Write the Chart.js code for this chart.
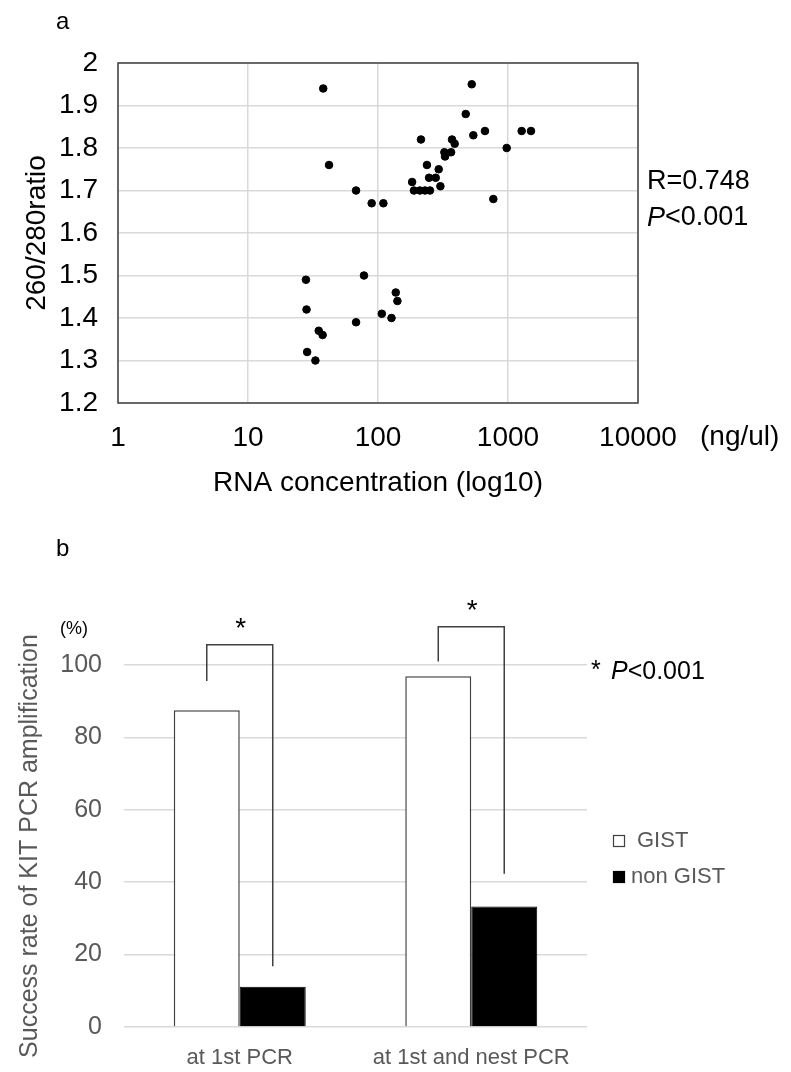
<!DOCTYPE html>
<html>
<head>
<meta charset="utf-8">
<script src="https://cdn.jsdelivr.net/npm/chart.js@4.4.1/dist/chart.umd.min.js"></script>
<style>
  body { margin: 0; background: #fff; }
  #wrap { position: relative; width: 791px; height: 1072px; }
  canvas { position: absolute; left: 0; }
  #scatterChart { top: 0; }
  #barChart { top: 520px; }
</style>
</head>
<body>
<div id="wrap">
  <canvas id="scatterChart" width="791" height="520"></canvas>
  <canvas id="barChart" width="791" height="552"></canvas>
</div>
<script>
// ---- data: panel a (RNA concentration vs 260/280 ratio) ----
const rnaConcentration = [37.9, 42, 67.8, 27.9, 28.2, 67.8, 35, 37.5, 28.5, 33,
  89.4, 110, 526, 473, 214, 541, 665, 1274, 1503, 977,
  371, 389, 324, 365, 328, 238, 293, 247, 278, 183,
  302, 189, 210, 230, 251, 771, 78, 137, 141, 107, 127];
const ratio260280 = [1.94, 1.76, 1.70, 1.49, 1.42, 1.39, 1.37, 1.36, 1.32, 1.30,
  1.67, 1.67, 1.95, 1.88, 1.82, 1.83, 1.84, 1.84, 1.84, 1.80,
  1.82, 1.81, 1.79, 1.79, 1.78, 1.76, 1.75, 1.73, 1.73, 1.72,
  1.71, 1.70, 1.70, 1.70, 1.70, 1.68, 1.50, 1.46, 1.44, 1.41, 1.40];
const xTickValues = [1, 10, 100, 1000, 10000];
const yTickValues = [1.2, 1.3, 1.4, 1.5, 1.6, 1.7, 1.8, 1.9, 2];

// ---- data: panel b (KIT PCR success rate) ----
const barCategories = ['at 1st PCR', 'at 1st and nest PCR'];
const gistRates = [87.5, 96.9];
const nonGistRates = [11.1, 33.3];
const barTickValues = [0, 20, 40, 60, 80, 100];
// significance brackets, in % units: top bar, left leg end, right leg end
const bracketTop = [105.6, 110.6];
const bracketLeftEnd = [95.6, 101];
const bracketRightEnd = [16.8, 42.3];

Chart.defaults.font.family = "'Liberation Sans', Arial, sans-serif";

const GRID = '#d9d9d9';
const DARK = '#404040';
const GREY = '#595959';

function fixTicks(values) {
  return axis => { axis.ticks = values.map(v => ({ value: v })); };
}

// frame around the plot area of panel a
const framePlugin = {
  id: 'frame',
  beforeDatasetsDraw(chart) {
    const { ctx, chartArea: a } = chart;
    ctx.save();
    ctx.strokeStyle = DARK;
    ctx.lineWidth = 1.5;
    ctx.strokeRect(a.left, a.top, a.right - a.left, a.bottom - a.top);
    ctx.restore();
  }
};

const scatterTextPlugin = {
  id: 'scatterText',
  afterDraw(chart) {
    const ctx = chart.ctx;
    ctx.save();
    ctx.fillStyle = '#000';
    ctx.textBaseline = 'middle';
    ctx.textAlign = 'left';
    ctx.font = "24px 'Liberation Sans', Arial, sans-serif";
    ctx.fillText('a', 56, 22);
    ctx.font = "28px 'Liberation Sans', Arial, sans-serif";
    ctx.fillText('(ng/ul)', 700, 437);
    ctx.font = "27px 'Liberation Sans', Arial, sans-serif";
    ctx.fillText('R=0.748', 647, 182);
    ctx.font = "italic 27px 'Liberation Sans', Arial, sans-serif";
    ctx.fillText('P', 647, 218);
    const pw = ctx.measureText('P').width;
    ctx.font = "27px 'Liberation Sans', Arial, sans-serif";
    ctx.fillText('<0.001', 647 + pw, 218);
    ctx.restore();
  }
};

new Chart(document.getElementById('scatterChart'), {
  type: 'scatter',
  data: {
    datasets: [{
      label: '260/280ratio',
      data: rnaConcentration.map((x, i) => ({ x: x, y: ratio260280[i] })),
      backgroundColor: '#000',
      borderColor: '#000',
      pointRadius: 3.8,
      borderWidth: 1
    }]
  },
  options: {
    responsive: false,
    animation: false,
    layout: { padding: { top: 63, right: 153, left: 0, bottom: 0 } },
    plugins: { legend: { display: false }, tooltip: { enabled: false } },
    scales: {
      x: {
        type: 'logarithmic',
        min: 1,
        max: 10000,
        afterBuildTicks: fixTicks(xTickValues),
        afterFit(s) { s.height = 117; },
        border: { display: false },
        grid: { color: GRID, lineWidth: 1.5, drawTicks: false },
        ticks: {
          color: '#000',
          font: { size: 28 },
          padding: 18,
          maxRotation: 0,
          autoSkip: false,
          callback: v => String(v)
        },
        title: {
          display: true,
          text: 'RNA concentration (log10)',
          color: '#000',
          font: { size: 28 },
          padding: { top: 0, bottom: 20 }
        }
      },
      y: {
        min: 1.2,
        max: 2,
        afterBuildTicks: fixTicks(yTickValues),
        afterFit(s) { s.width = 118; },
        border: { display: false },
        grid: { color: GRID, lineWidth: 1.5, drawTicks: false },
        ticks: {
          color: '#000',
          font: { size: 28 },
          padding: 20,
          callback: v => String(v)
        },
        title: {
          display: true,
          text: '260/280ratio',
          color: '#000',
          font: { size: 28 },
          padding: { top: 20, bottom: 0 }
        }
      }
    }
  },
  plugins: [framePlugin, scatterTextPlugin]
});

// brackets, stars, legend and notes of panel b
const barNotesPlugin = {
  id: 'barNotes',
  afterDatasetsDraw(chart) {
    const { ctx, scales: { y } } = chart;
    const gistBars = chart.getDatasetMeta(0).data;
    const nonBars = chart.getDatasetMeta(1).data;
    ctx.save();
    ctx.strokeStyle = DARK;
    ctx.lineWidth = 1.5;
    barCategories.forEach((c, i) => {
      const x1 = gistBars[i].x;
      const x2 = nonBars[i].x;
      const top = y.getPixelForValue(bracketTop[i]);
      ctx.beginPath();
      ctx.moveTo(x1, y.getPixelForValue(bracketLeftEnd[i]));
      ctx.lineTo(x1, top);
      ctx.lineTo(x2, top);
      ctx.lineTo(x2, y.getPixelForValue(bracketRightEnd[i]));
      ctx.stroke();
      ctx.fillStyle = '#000';
      ctx.textAlign = 'center';
      ctx.textBaseline = 'middle';
      ctx.font = "28px 'Liberation Sans', Arial, sans-serif";
      ctx.fillText('*', (x1 + x2) / 2 + 1, top - 15);
    });

    ctx.fillStyle = '#000';
    ctx.textAlign = 'left';
    ctx.textBaseline = 'middle';
    ctx.font = "24px 'Liberation Sans', Arial, sans-serif";
    ctx.fillText('b', 56, 29);
    ctx.font = "18px 'Liberation Sans', Arial, sans-serif";
    ctx.fillText('(%)', 60, 109);

    ctx.font = "25px 'Liberation Sans', Arial, sans-serif";
    ctx.fillText('*', 591, 151);
    ctx.font = "italic 25px 'Liberation Sans', Arial, sans-serif";
    ctx.fillText('P', 611, 152);
    const pw = ctx.measureText('P').width;
    ctx.font = "25px 'Liberation Sans', Arial, sans-serif";
    ctx.fillText('<0.001', 611 + pw, 152);

    // legend
    const rows = [{ y: 321, textX: 637 }, { y: 357, textX: 631 }];
    chart.data.datasets.forEach((ds, i) => {
      const r = rows[i];
      ctx.fillStyle = ds.backgroundColor;
      ctx.fillRect(613.5, r.y - 5.5, 11, 11);
      ctx.strokeStyle = ds.borderColor;
      ctx.lineWidth = 1.2;
      ctx.strokeRect(613.5, r.y - 5.5, 11, 11);
      ctx.fillStyle = GREY;
      ctx.font = "22px 'Liberation Sans', Arial, sans-serif";
      ctx.fillText(ds.label, r.textX, r.y);
    });
    ctx.restore();
  }
};

new Chart(document.getElementById('barChart'), {
  type: 'bar',
  data: {
    labels: barCategories,
    datasets: [
      {
        label: 'GIST',
        data: gistRates,
        backgroundColor: '#ffffff',
        borderColor: DARK,
        borderWidth: 1.5
      },
      {
        label: 'non GIST',
        data: nonGistRates,
        backgroundColor: '#000000',
        borderColor: '#000000',
        borderWidth: 1
      }
    ]
  },
  options: {
    responsive: false,
    animation: false,
    categoryPercentage: 0.57,
    barPercentage: 1.0,
    layout: { padding: { top: 145, right: 204, left: 0, bottom: 0 } },
    plugins: { legend: { display: false }, tooltip: { enabled: false } },
    scales: {
      x: {
        afterFit(s) { s.height = 45; },
        border: { display: false },
        grid: { display: false },
        ticks: { color: GREY, font: { size: 22 }, padding: 10, maxRotation: 0 }
      },
      y: {
        min: 0,
        max: 100,
        afterBuildTicks: fixTicks(barTickValues),
        afterFit(s) { s.width = 124; },
        border: { display: false },
        grid: { color: GRID, lineWidth: 1.5, drawTicks: false },
        ticks: { color: GREY, font: { size: 25 }, padding: 22 },
        title: {
          display: true,
          text: 'Success rate of KIT PCR amplification',
          color: GREY,
          font: { size: 25 },
          padding: { top: 15, bottom: 0 }
        }
      }
    }
  },
  plugins: [barNotesPlugin]
});
</script>
</body>
</html>
